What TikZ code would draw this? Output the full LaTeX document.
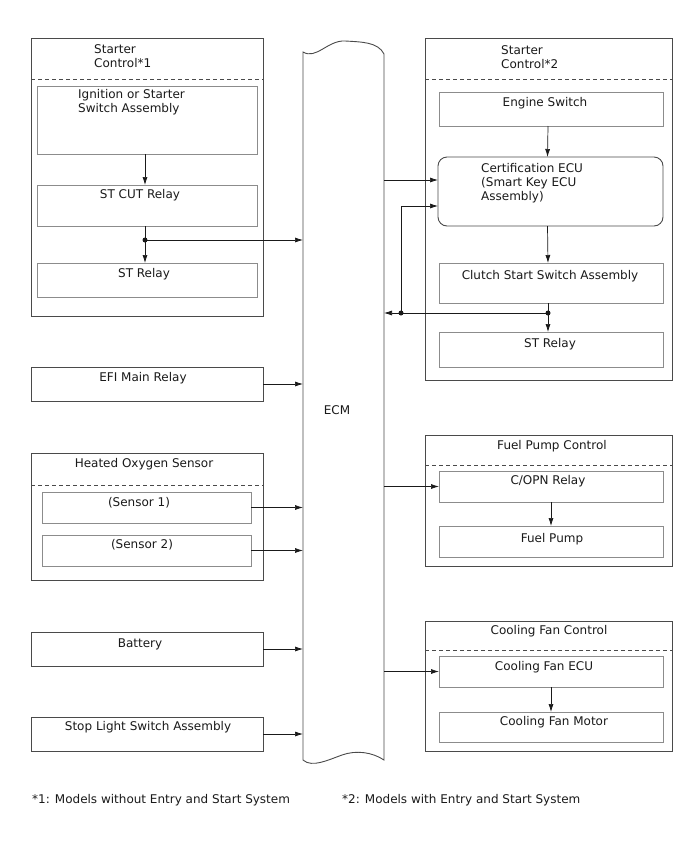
\documentclass[tikz,border=0pt]{standalone}
\usepackage{fontspec}
\setmainfont{DejaVu Sans}
\usetikzlibrary{arrows.meta,fit,calc}
\definecolor{outerc}{HTML}{4A4A4A}
\definecolor{innerc}{HTML}{8C8C8C}
\definecolor{ink}{HTML}{1A1A1A}
\begin{document}
\begin{tikzpicture}[x=1pt,y=-1pt,
  font=\fontsize{12}{14}\selectfont,
  obox/.style={draw=outerc,line width=0.9pt,inner sep=0pt,outer sep=0pt},
  ibox/.style={draw=innerc,line width=0.9pt,inner sep=0pt,outer sep=0pt},
  arr/.style={draw=ink,line width=0.7pt,-{Latex[length=8pt,width=5pt]}},
  ln/.style={draw=ink,line width=0.7pt},
  jdot/.style={circle,fill=ink,inner sep=0pt,minimum size=5pt},
  lbl/.style={inner sep=0pt,text=ink},
  sepline/.style={draw=outerc,line width=0.8pt,dash pattern=on 4pt off 3pt}]
\fill[white] (0,0) rectangle (688,852);
\useasboundingbox (0,0) rectangle (688,852);

% ---------- left column ----------
\node[obox,fit={(31,38) (263,316)}] (sc1) {};
\draw[sepline] (sc1.west |- 0,79) -- (sc1.east |- 0,79);
\node[ibox,fit={(37,86) (257,154)}] (ign) {};
\node[ibox,fit={(37,185) (257,226)}] (stcut) {};
\node[ibox,fit={(37,263) (257,297)}] (str1) {};
\node[obox,fit={(31,367) (263,401)}] (efi) {};
\node[obox,fit={(31,453) (263,580)}] (hos) {};
\draw[sepline] (hos.west |- 0,485) -- (hos.east |- 0,485);
\node[ibox,fit={(42,492) (251,523)}] (s1) {};
\node[ibox,fit={(42,535) (251,566)}] (s2) {};
\node[obox,fit={(31,632) (263,666)}] (bat) {};
\node[obox,fit={(31,717) (263,751)}] (stop) {};

% ---------- ECM ----------
\node[inner sep=0pt,outer sep=0pt,fit={(303,52) (384,760)}] (ecm) {};
\draw[draw=outerc,line width=0.9pt] (303,52) .. controls (316,60) and (328,40) .. (345,41)
  .. controls (362,42) and (378,42) .. (384,54) -- (384,760)
  .. controls (372,752) and (356,750) .. (342,755)
  .. controls (328,760) and (312,768) .. (303,760) -- cycle;

% ---------- right column ----------
\node[obox,fit={(425,38) (672,380)}] (sc2) {};
\draw[sepline] (sc2.west |- 0,79) -- (sc2.east |- 0,79);
\node[ibox,fit={(439,92) (663,126)}] (eng) {};
\node[draw=outerc,line width=0.9pt,inner sep=0pt,outer sep=0pt,rounded corners=9pt,fit={(438,157) (663,226)}] (cert) {};
\node[ibox,fit={(439,263) (663,303)}] (clutch) {};
\node[ibox,fit={(439,332) (663,367)}] (str2) {};
\node[obox,fit={(425,435) (672,566)}] (fpc) {};
\draw[sepline] (fpc.west |- 0,465) -- (fpc.east |- 0,465);
\node[ibox,fit={(439,471) (663,502)}] (copn) {};
\node[ibox,fit={(439,526) (663,557)}] (fp) {};
\node[obox,fit={(425,621) (672,751)}] (cfc) {};
\draw[sepline] (cfc.west |- 0,650) -- (cfc.east |- 0,650);
\node[ibox,fit={(439,656) (663,687)}] (cfecu) {};
\node[ibox,fit={(439,712) (663,742)}] (cfm) {};

% ---------- labels ----------
\node[lbl,anchor=north west,align=left] (tsc1) at (94,44) {Starter\\Control*1};
\node[lbl,anchor=north west,align=left] (tign) at (78,89) {Ignition or Starter\\Switch Assembly};
\node[lbl,anchor=base] (tstcut) at (140,198) {ST CUT Relay};
\node[lbl,anchor=base] (tstr1) at (144,277) {ST Relay};
\node[lbl,anchor=base] (tefi) at (143,381) {EFI Main Relay};
\node[lbl,anchor=base] (thos) at (144,467) {Heated Oxygen Sensor};
\node[lbl,anchor=base] (ts1) at (139,506) {(Sensor 1)};
\node[lbl,anchor=base] (ts2) at (142,548) {(Sensor 2)};
\node[lbl,anchor=base] (tbat) at (140,647) {Battery};
\node[lbl,anchor=base] (tstop) at (148,730) {Stop Light Switch Assembly};
\node[lbl,anchor=base] (tecm) at (337,414) {ECM};
\node[lbl,anchor=north west,align=left] (tsc2) at (501,45) {Starter\\Control*2};
\node[lbl,anchor=base] (teng) at (545,106) {Engine Switch};
\node[lbl,anchor=north west,align=left] (tcert) at (481,163) {Certification ECU\\(Smart Key ECU\\Assembly)};
\node[lbl,anchor=base] (tclutch) at (550,279) {Clutch Start Switch Assembly};
\node[lbl,anchor=base] (tstr2) at (550,347) {ST Relay};
\node[lbl,anchor=base] (tfpc) at (552,449) {Fuel Pump Control};
\node[lbl,anchor=base] (tcopn) at (548,484) {C/OPN Relay};
\node[lbl,anchor=base] (tfp) at (552,542) {Fuel Pump};
\node[lbl,anchor=base] (tcfc) at (549,634) {Cooling Fan Control};
\node[lbl,anchor=base] (tcfecu) at (544,670) {Cooling Fan ECU};
\node[lbl,anchor=base] (tcfm) at (554,725) {Cooling Fan Motor};
\node[lbl,anchor=base west] (fn1) at (32,803) {*1: Models without Entry and Start System};
\node[lbl,anchor=base west] (fn2) at (342,803) {*2: Models with Entry and Start System};

% ---------- connectors left ----------
\coordinate (la) at ($(ign.south)+(-2,0)$);
\coordinate (lb) at ($(stcut.north)+(-2,0)$);
\coordinate (lc) at ($(stcut.south)+(-2,0)$);
\coordinate (ld) at ($(str1.north)+(-2,0)$);
\draw[arr] (la) -- (lb);
\node[jdot] (d1) at ($(lc)+(0,14)$) {};
\draw[ln] (lc) -- (d1.center);
\draw[arr] (d1.center) -- (ld);
\draw[arr] (d1.center) -- (d1.center -| ecm.west);
\draw[arr] (efi.east) -- (efi.east -| ecm.west);
\draw[arr] (s1.east) -- (s1.east -| ecm.west);
\draw[arr] (s2.east) -- (s2.east -| ecm.west);
\draw[arr] (bat.east) -- (bat.east -| ecm.west);
\draw[arr] (stop.east) -- (stop.east -| ecm.west);

% ---------- connectors right ----------
\coordinate (cin1) at ($(cert.north west)+(0,23)$);
\coordinate (cin2) at ($(cert.north west)+(0,49)$);
\coordinate (ra) at ($(eng.south)+(-3,0)$);
\coordinate (rb) at ($(cert.north)+(-3,0)$);
\coordinate (rc) at ($(cert.south)+(-3,0)$);
\coordinate (rd) at ($(clutch.north)+(-3,0)$);
\coordinate (re) at ($(clutch.south)+(-3,0)$);
\coordinate (rf) at ($(str2.north)+(-3,0)$);
\draw[arr] (ra) -- (rb);
\draw[arr] (ecm.east |- cin1) -- (cin1);
\draw[arr] (rc) -- (rd);
\node[jdot] (d2) at ($(re)+(0,10)$) {};
\draw[ln] (re) -- (d2.center);
\draw[arr] (d2.center) -- (rf);
\node[jdot] (d3) at ($(d2.center)+(-147,0)$) {};
\draw[ln] (d2.center) -- (d3.center);
\draw[arr] (d3.center) -- (d3.center -| ecm.east);
\draw[arr] (d3.center) |- (cin2);
\draw[arr] (copn.west -| ecm.east) -- (copn.west);
\draw[arr] (copn.south) -- (fp.north);
\draw[arr] (cfecu.west -| ecm.east) -- (cfecu.west);
\draw[arr] (cfecu.south) -- (cfm.north);
\end{tikzpicture}
\end{document}
